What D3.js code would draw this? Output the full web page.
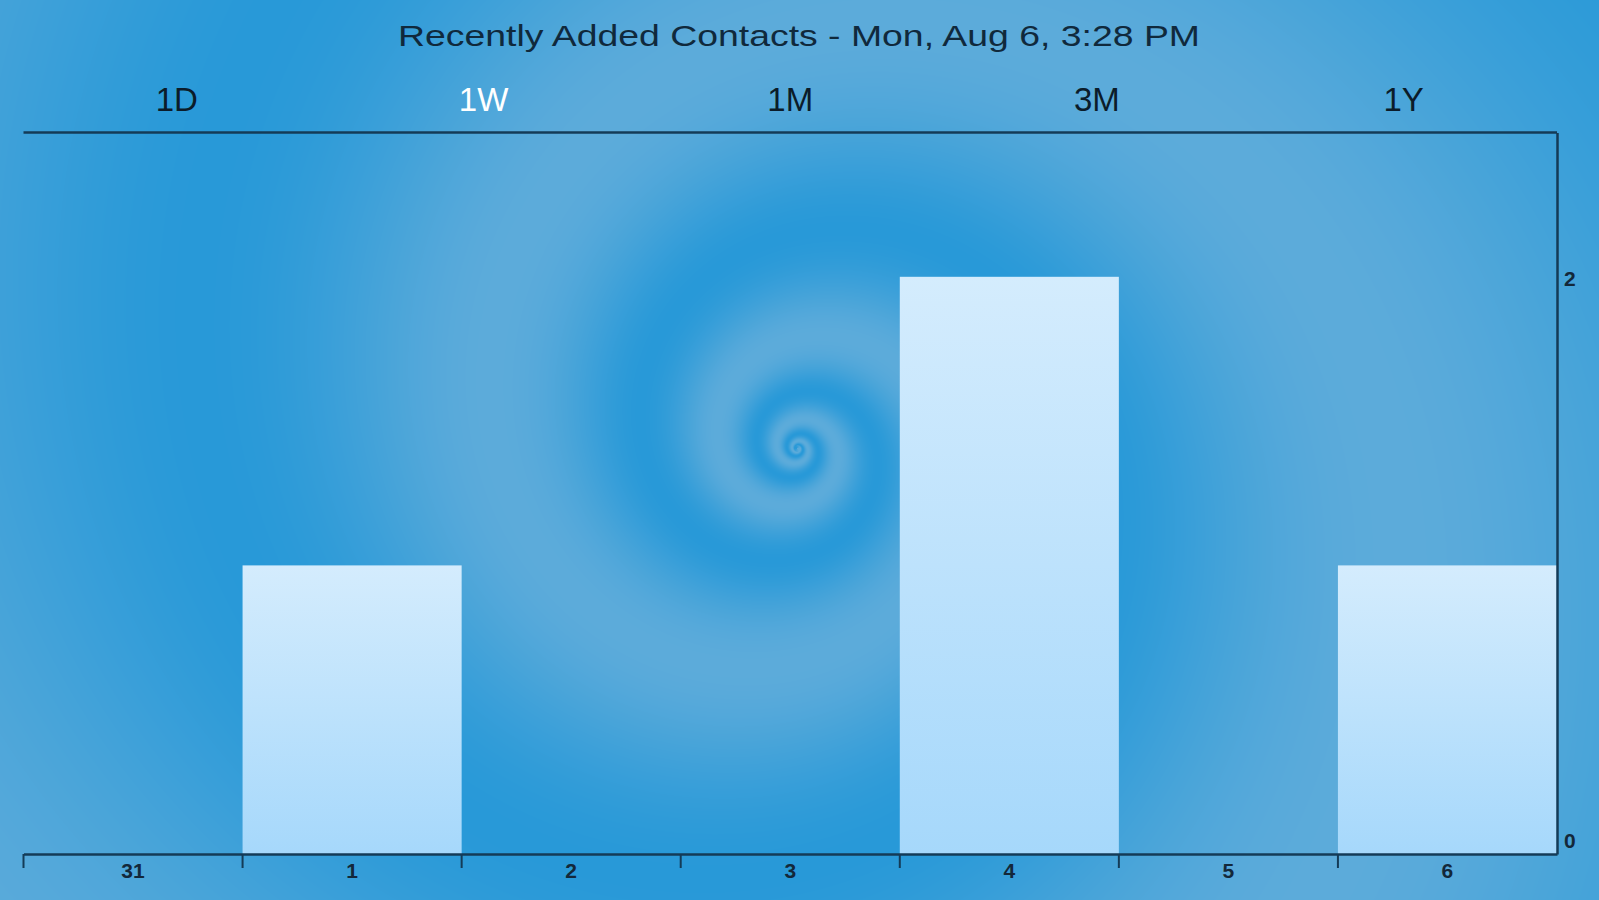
<!DOCTYPE html>
<html>
<head>
<meta charset="utf-8">
<script src="https://cdn.jsdelivr.net/npm/d3@7"></script>
<style>
  html, body { margin: 0; padding: 0; background: #2a9ad8; }
  svg { display: block; }
  text { font-family: "Liberation Sans", Arial, sans-serif; }
</style>
</head>
<body>
<svg id="chart"></svg>
<script>
// chart values
const title = "Recently Added Contacts - Mon, Aug 6, 3:28 PM";
const ranges = ["1D", "1W", "1M", "3M", "1Y"];
const selectedRange = "1W";
const days = ["31", "1", "2", "3", "4", "5", "6"];
const counts = [0, 1, 0, 0, 2, 0, 1];
const yTicks = [0, 2];
const yMax = 2.5;

const W = 1599, H = 900;
const margin = { top: 132.5, right: 42, bottom: 46, left: 23.5 };

const svg = d3.select("#chart").attr("width", W).attr("height", H);

// swirl wallpaper, painted once on a canvas and dropped in as an image
function swirl() {
    const c = document.createElement("canvas");
    c.width = W; c.height = H;
    const ctx = c.getContext("2d");
    const img = ctx.createImageData(W, H);
    const cx = 797, cy = 448, r0 = 40, k = 0.214;
    const dark = [40, 153, 216], light = [92, 171, 218];
    for (let py = 0; py < H; py++) {
        for (let px = 0; px < W; px++) {
            const dx = px - cx, dy = py - cy;
            const r = Math.max(Math.sqrt(dx * dx + dy * dy), 3);
            const a = Math.atan2(dy, dx);
            const phase = Math.log(r / r0) / k - a;
            let t = 0.5 + 0.5 * Math.cos(phase);
            t = Math.pow(t, 0.9);
            const i = (py * W + px) * 4;
            img.data[i] = dark[0] + (light[0] - dark[0]) * t;
            img.data[i + 1] = dark[1] + (light[1] - dark[1]) * t;
            img.data[i + 2] = dark[2] + (light[2] - dark[2]) * t;
            img.data[i + 3] = 255;
        }
    }
    ctx.putImageData(img, 0, 0);
    return c.toDataURL();
}

svg.append("image")
    .attr("x", 0).attr("y", 0)
    .attr("width", W).attr("height", H)
    .attr("href", swirl());

const defs = svg.append("defs");
const grad = defs.append("linearGradient")
    .attr("id", "barFill")
    .attr("x1", 0).attr("y1", 0).attr("x2", 0).attr("y2", 1);
grad.append("stop").attr("offset", "0%").attr("stop-color", "#d4ecfd");
grad.append("stop").attr("offset", "100%").attr("stop-color", "#a6d8fb");

const x = d3.scaleBand()
    .domain(days)
    .range([margin.left, W - margin.right])
    .padding(0);

const y = d3.scaleLinear()
    .domain([0, yMax])
    .range([H - margin.bottom, margin.top]);

// title
svg.append("text")
    .attr("x", 799)
    .attr("y", 36)
    .attr("dy", "0.35em")
    .attr("text-anchor", "middle")
    .attr("font-family", "'DejaVu Sans', sans-serif")
    .attr("font-size", 29)
    .attr("textLength", 802)
    .attr("lengthAdjust", "spacingAndGlyphs")
    .attr("fill", "#10293c")
    .text(title);

// range selector
const rx = d3.scaleBand()
    .domain(ranges)
    .range([margin.left, W - margin.right]);

svg.append("g")
    .selectAll("text")
    .data(ranges)
    .join("text")
    .attr("x", d => rx(d) + rx.bandwidth() / 2)
    .attr("y", 99)
    .attr("dy", "0.35em")
    .attr("text-anchor", "middle")
    .attr("font-size", 33)
    .attr("fill", d => d === selectedRange ? "#ffffff" : "#0b1c2a")
    .text(d => d);

// bars
svg.append("g")
    .selectAll("rect")
    .data(days.map((d, i) => ({ day: d, value: counts[i] })))
    .join("rect")
    .attr("x", d => x(d.day))
    .attr("y", d => y(d.value))
    .attr("width", x.bandwidth())
    .attr("height", d => y(0) - y(d.value))
    .attr("fill", "url(#barFill)");

const axisColor = "#143b57";

// top border
svg.append("line")
    .attr("x1", margin.left).attr("x2", W - margin.right)
    .attr("y1", margin.top).attr("y2", margin.top)
    .attr("stroke", axisColor)
    .attr("stroke-width", 2.5);

// bottom axis: labels centered, ticks on band edges
const xAxis = svg.append("g")
    .attr("transform", `translate(0,${y(0)})`)
    .call(d3.axisBottom(x).tickSize(0).tickPadding(9));
xAxis.select(".domain")
    .attr("stroke", axisColor)
    .attr("stroke-width", 2.5);
xAxis.selectAll("text")
    .attr("font-size", 21)
    .attr("font-weight", "bold")
    .attr("fill", "#13283a");

xAxis.selectAll(".edge")
    .data(days)
    .join("line")
    .attr("class", "edge")
    .attr("x1", d => x(d)).attr("x2", d => x(d))
    .attr("y1", 0).attr("y2", 14)
    .attr("stroke", axisColor)
    .attr("stroke-width", 2);

// right axis
const yAxis = svg.append("g")
    .attr("transform", `translate(${W - margin.right},0)`)
    .call(d3.axisRight(y).tickValues(yTicks).tickFormat(d3.format("d")).tickSize(0).tickPadding(7));
yAxis.select(".domain")
    .attr("stroke", axisColor)
    .attr("stroke-width", 2.5);
yAxis.selectAll("text")
    .attr("font-size", 21)
    .attr("font-weight", "bold")
    .attr("fill", "#13283a")
    .attr("dy", d => d === 0 ? "-0.3em" : "0.42em");
</script>
</body>
</html>
